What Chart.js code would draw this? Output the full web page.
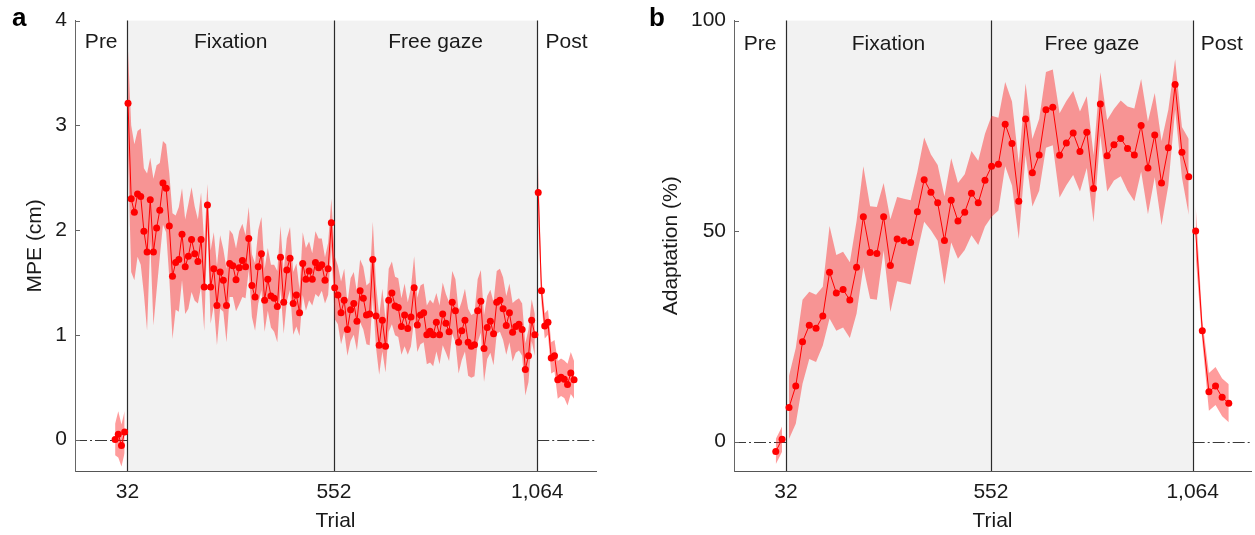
<!DOCTYPE html>
<html>
<head>
<meta charset="utf-8">
<script src="https://cdn.jsdelivr.net/npm/chart.js@4.4.1/dist/chart.umd.min.js"></script>
<style>
  body { margin: 0; background: #fff; overflow: hidden; width: 1255px; height: 535px; position: relative; }
  canvas { position: absolute; top: 0; }
  #chartA { left: 0; }
  #chartB { left: 640px; }
</style>
</head>
<body>
<canvas id="chartA" width="620" height="535"></canvas>
<canvas id="chartB" width="615" height="535"></canvas>
<script>
// phase boundaries (trial) and x ticks
var phaseLines = [32, 552, 1064];
var xMin = -100, xMax = 1212;
var xTickVals = [32, 552, 1064];
var xTickLabels = ['32', '552', '1,064'];
var phaseNames = ['Pre', 'Fixation', 'Free gaze', 'Post'];
var phaseJoined = [false, true, false]; // line continues across boundary?

// ---- panel a : MPE (cm), bins of 8 trials ----
var preA = [0, 0.05, -0.057, 0.072];
var preAErr = [0.15, 0.22, 0.2, 0.2];
var fixA = [3.21, 2.30, 2.17, 2.345, 2.32, 1.99, 1.79, 2.29, 1.79, 2.02,
  2.19, 2.45, 2.40, 2.04, 1.56, 1.69, 1.72, 1.96, 1.65, 1.75,
  1.91, 1.775, 1.70, 1.91, 1.456, 2.24, 1.456, 1.63, 1.28, 1.60,
  1.52, 1.28, 1.68, 1.66, 1.525, 1.64, 1.71, 1.65, 1.92, 1.47,
  1.36, 1.65, 1.775, 1.33, 1.53, 1.37, 1.35, 1.27, 1.74, 1.31,
  1.62, 1.73, 1.30, 1.38, 1.21, 1.68, 1.53, 1.61, 1.53, 1.69,
  1.64, 1.67, 1.52, 1.63, 2.07];
var fixAErr = [0.5, 0.7, 0.65, 0.6, 0.65, 0.6, 0.75, 0.4, 0.7, 0.6,
  0.45, 0.4, 0.42, 0.5, 0.6, 0.45, 0.5, 0.44, 0.45, 0.5,
  0.5, 0.45, 0.4, 0.45, 0.42, 0.2, 0.35, 0.35, 0.38, 0.35,
  0.3, 0.35, 0.32, 0.3, 0.3, 0.35, 0.35, 0.3, 0.3, 0.3,
  0.32, 0.35, 0.35, 0.3, 0.3, 0.3, 0.32, 0.34, 0.3, 0.3,
  0.3, 0.3, 0.3, 0.3, 0.22, 0.3, 0.3, 0.28, 0.25, 0.3,
  0.28, 0.25, 0.22, 0.25, 0.23];
var freeA = [1.45, 1.38, 1.21, 1.33, 1.05, 1.24, 1.30, 1.13, 1.42, 1.35,
  1.19, 1.20, 1.72, 1.18, 0.90, 1.14, 0.89, 1.33, 1.40, 1.275,
  1.26, 1.08, 1.19, 1.06, 1.17, 1.45, 1.095, 1.19, 1.21, 1.00,
  1.035, 1.00, 1.12, 1.00, 1.20, 1.11, 1.03, 1.31, 1.23, 0.93,
  1.04, 1.14, 0.93, 0.89, 0.905, 1.23, 1.32, 0.87, 1.07, 1.13,
  1.01, 1.31, 1.33, 1.25, 1.09, 1.21, 1.025, 1.08, 1.10, 1.05,
  0.67, 0.80, 1.14, 1.00];
var freeAErr = [0.3, 0.28, 0.3, 0.3, 0.25, 0.3, 0.3, 0.28, 0.3, 0.3,
  0.28, 0.3, 0.36, 0.3, 0.28, 0.3, 0.25, 0.3, 0.3, 0.28,
  0.28, 0.27, 0.3, 0.25, 0.28, 0.3, 0.26, 0.28, 0.28, 0.28,
  0.3, 0.3, 0.28, 0.28, 0.3, 0.28, 0.28, 0.3, 0.3, 0.3,
  0.28, 0.3, 0.32, 0.3, 0.3, 0.3, 0.3, 0.32, 0.3, 0.3,
  0.3, 0.3, 0.3, 0.3, 0.28, 0.28, 0.28, 0.25, 0.25, 0.25,
  0.25, 0.25, 0.2, 0.2];
var postA = [2.36, 1.42, 1.085, 1.12, 0.78, 0.80, 0.57, 0.595, 0.576, 0.525, 0.636, 0.57];
var postAErr = [0.28, 0.12, 0.12, 0.12, 0.15, 0.15, 0.18, 0.18, 0.18, 0.2, 0.2, 0.18];
var startA = [1, 33.5, 554, 1066.5];   // first bin centre of each phase
var stepA = [8, 8, 8, 8.2];            // trials per bin
var yTicksA = [0, 1, 2, 3, 4];

// ---- panel b : Adaptation (%), bins of ~17 trials ----
var preB = [-2.37, 0.57];
var preBErr = [3, 3];
var fixB = [8.1, 13.2, 23.7, 27.6, 26.9, 29.8, 40.2, 35.3, 36.1, 33.6,
  41.4, 53.4, 44.9, 44.7, 53.4, 41.8, 48.1, 47.7, 47.3, 54.6,
  62.2, 59.2, 56.7, 47.75, 57.3, 52.4, 54.5, 59.0, 56.7, 62.1];
var fixBErr = [7.5, 9, 10, 8, 8, 7, 11, 9, 9, 9,
  11, 12, 11, 11, 8, 11, 10, 10, 10, 9.5,
  10, 9, 9, 10.5, 10, 9, 9, 10, 10, 11];
var freeB = [65.4, 65.9, 75.4, 70.8, 57.1, 76.6, 63.85, 68.1, 78.8, 79.4,
  68.0, 70.9, 73.3, 68.9, 73.5, 60.1, 80.2, 67.9, 70.5, 72.0,
  69.6, 68.1, 75.1, 65.0, 72.8, 61.4, 69.8, 84.8, 68.7, 62.9];
var freeBErr = [12, 11, 10, 10, 9, 8.5, 8, 8.5, 9, 9,
  10, 10, 10, 9.5, 8.5, 8, 7.5, 8.5, 8.5, 9,
  10, 11, 11, 11, 10, 10, 9, 6, 6, 9];
var postB = [50, 26.3, 11.8, 13.2, 10.5, 9.1];
var postBErr = [6, 2.5, 4.5, 4.5, 4.5, 4.5];
var startB = [6, 39.6, 553.7, 1071.6];
var stepB = [16, 17.15, 17.25, 16.8];
var yTicksB = [0, 50, 100];

var FONT = '"Liberation Sans", Arial, Helvetica, sans-serif';

// join the phases into {x,y} lists for mean, lower and upper edge
function montarSeries(fases, erros, inicio, passo) {
  var media = [], baixo = [], alto = [];
  for (var f = 0; f < fases.length; f++) {
    if (f > 0 && !phaseJoined[f - 1]) {
      // break the line/band at this boundary
      var tb = phaseLines[f - 1];
      media.push({ x: tb, y: null });
      baixo.push({ x: tb, y: null });
      alto.push({ x: tb, y: null });
    }
    for (var i = 0; i < fases[f].length; i++) {
      var t = inicio[f] + passo[f] * i;
      media.push({ x: t, y: fases[f][i] });
      baixo.push({ x: t, y: fases[f][i] - erros[f][i] });
      alto.push({ x: t, y: fases[f][i] + erros[f][i] });
    }
  }
  return { media: media, baixo: baixo, alto: alto };
}

var fasesPlugin = {
  id: 'fases',
  beforeDatasetsDraw(chart, args, opts) {
    var ctx = chart.ctx, a = chart.chartArea, x = chart.scales.x, y = chart.scales.y;
    var p0 = x.getPixelForValue(phaseLines[0]);
    var p2 = x.getPixelForValue(phaseLines[2]);
    ctx.save();
    ctx.fillStyle = '#f2f2f2';
    ctx.fillRect(p0, a.top, p2 - p0, a.bottom - a.top);

    // dash-dot baseline in the pre and post phases
    var y0 = Math.round(y.getPixelForValue(0)) + 0.5;
    ctx.strokeStyle = '#3a3a3a';
    ctx.lineWidth = 1;
    ctx.setLineDash([12, 3, 2, 3]);
    ctx.beginPath();
    ctx.moveTo(a.left, y0); ctx.lineTo(p0, y0);
    ctx.moveTo(p2, y0); ctx.lineTo(a.right, y0);
    ctx.stroke();
    ctx.setLineDash([]);

    ctx.strokeStyle = '#2b2b2b';
    ctx.lineWidth = 1.2;
    phaseLines.forEach(function (v) {
      var px = Math.round(x.getPixelForValue(v)) + 0.5;
      ctx.beginPath();
      ctx.moveTo(px, a.top);
      ctx.lineTo(px, a.bottom);
      ctx.stroke();
    });
    ctx.restore();
  },
  afterDraw(chart, args, opts) {
    var ctx = chart.ctx, a = chart.chartArea, x = chart.scales.x, y = chart.scales.y;
    ctx.save();
    // inward y ticks
    ctx.strokeStyle = '#666';
    ctx.lineWidth = 1;
    opts.yTicks.forEach(function (v) {
      var py = Math.round(y.getPixelForValue(v)) + 0.5;
      ctx.beginPath();
      ctx.moveTo(a.left, py);
      ctx.lineTo(a.left + 5, py);
      ctx.stroke();
    });
    // phase names centred in each phase
    var limites = [xMin].concat(phaseLines).concat([xMax]);
    ctx.fillStyle = '#1a1a1a';
    ctx.font = '21px ' + FONT;
    ctx.textAlign = 'center';
    ctx.textBaseline = 'alphabetic';
    for (var i = 0; i < phaseNames.length; i++) {
      var meio = (limites[i] + limites[i + 1]) / 2;
      ctx.fillText(phaseNames[i], x.getPixelForValue(meio), a.top + opts.labelOffset);
    }
    // panel letter
    ctx.font = 'bold 26px ' + FONT;
    ctx.textAlign = 'left';
    ctx.fillStyle = '#000';
    ctx.fillText(opts.letter, opts.letterX, 26);
    ctx.restore();
  }
};

function criarGrafico(canvasId, series, cfg) {
  return new Chart(document.getElementById(canvasId), {
    type: 'line',
    data: {
      datasets: [
        {
          data: series.media,
          borderColor: '#ff0000',
          borderWidth: 1,
          pointRadius: 3.5,
          pointBorderWidth: 0,
          pointBackgroundColor: '#ff0000',
          tension: 0,
          spanGaps: false,
          fill: false
        },
        {
          data: series.baixo,
          borderWidth: 0,
          borderColor: 'rgba(0,0,0,0)',
          pointRadius: 0,
          spanGaps: false,
          fill: false
        },
        {
          data: series.alto,
          borderWidth: 0,
          borderColor: 'rgba(0,0,0,0)',
          pointRadius: 0,
          spanGaps: false,
          backgroundColor: 'rgba(255, 20, 20, 0.42)',
          fill: '-1'
        }
      ]
    },
    options: {
      responsive: false,
      animation: false,
      events: [],
      layout: { padding: cfg.padding },
      plugins: {
        legend: { display: false },
        tooltip: { enabled: false },
        fases: { yTicks: cfg.yTicks, letter: cfg.letter, letterX: cfg.letterX, labelOffset: cfg.labelOffset }
      },
      scales: {
        x: {
          type: 'linear',
          min: xMin,
          max: xMax,
          afterBuildTicks: function (s) { s.ticks = xTickVals.map(function (v) { return { value: v }; }); },
          afterFit: function (s) { s.height = 64; },
          grid: { display: false, drawTicks: false },
          border: { display: true, color: '#555', width: 1 },
          ticks: {
            autoSkip: false,
            maxRotation: 0,
            padding: 9,
            color: '#1a1a1a',
            font: { family: FONT, size: 21 },
            callback: function (v, i) { return xTickLabels[i]; }
          },
          title: {
            display: true,
            text: 'Trial',
            color: '#1a1a1a',
            font: { family: FONT, size: 21 },
            padding: { top: 0, bottom: 1 }
          }
        },
        y: {
          type: 'linear',
          min: cfg.yMin,
          max: cfg.yMax,
          afterBuildTicks: function (s) { s.ticks = cfg.yTicks.map(function (v) { return { value: v }; }); },
          afterFit: function (s) { s.width = cfg.yWidth; },
          grid: { display: false, drawTicks: false },
          border: { display: true, color: '#666', width: 1 },
          ticks: {
            padding: 8,
            color: '#1a1a1a',
            font: { family: FONT, size: 21 }
          },
          title: {
            display: true,
            text: cfg.yTitle,
            color: '#1a1a1a',
            font: { family: FONT, size: 21 },
            padding: { top: cfg.yTitlePad, bottom: 0 }
          }
        }
      }
    },
    plugins: [fasesPlugin]
  });
}

var seriesA = montarSeries([preA, fixA, freeA, postA], [preAErr, fixAErr, freeAErr, postAErr], startA, stepA);
var seriesB = montarSeries([preB, fixB, freeB, postB], [preBErr, fixBErr, freeBErr, postBErr], startB, stepB);

criarGrafico('chartA', seriesA, {
  padding: { top: 18, right: 24, bottom: 0, left: 0 },
  yMin: -0.3, yMax: 4, yTicks: yTicksA, yWidth: 75,
  yTitle: 'MPE (cm)', yTitlePad: 23,
  letter: 'a', letterX: 12, labelOffset: 27.5
});
criarGrafico('chartB', seriesB, {
  padding: { top: 19, right: 1, bottom: 0, left: 0 },
  yMin: -7, yMax: 100, yTicks: yTicksB, yWidth: 94,
  yTitle: 'Adaptation (%)', yTitlePad: 19,
  letter: 'b', letterX: 9, labelOffset: 29
});
</script>
</body>
</html>
